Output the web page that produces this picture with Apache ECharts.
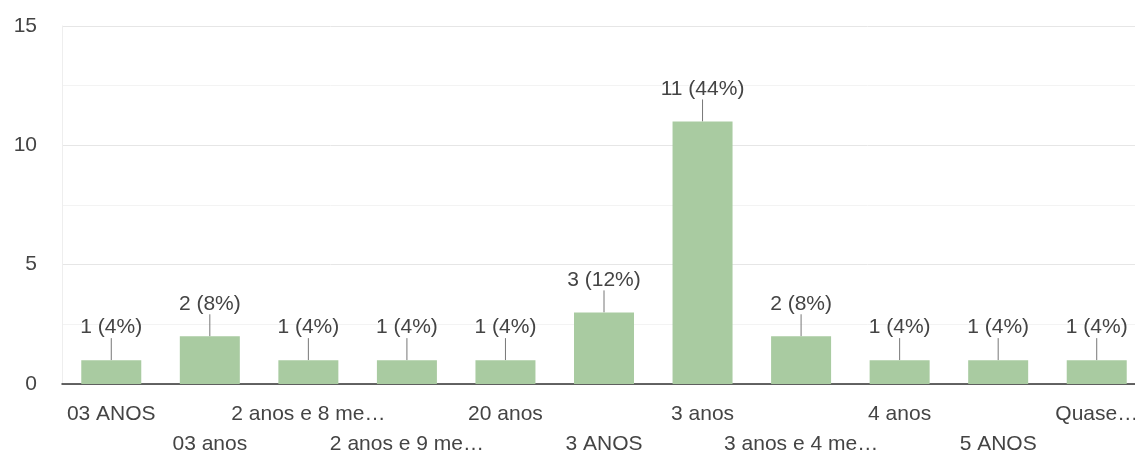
<!DOCTYPE html>
<html>
<head>
<meta charset="utf-8">
<script src="https://cdn.jsdelivr.net/npm/echarts@6/dist/echarts.min.js"></script>
<style>
  html, body { margin: 0; padding: 0; background: #fff; }
  #chart { width: 1135px; height: 454px; }
</style>
</head>
<body>
<div id="chart"></div>
<script>
// categorias e contagens
const categories = ['03 ANOS', '03 anos', '2 anos e 8 me…', '2 anos e 9 me…', '20 anos',
  '3 ANOS', '3 anos', '3 anos e 4 me…', '4 anos', '5 ANOS', 'Quase…'];
const counts = [1, 2, 1, 1, 1, 3, 11, 2, 1, 1, 1];
const total = counts.reduce((a, b) => a + b, 0);

const chart = echarts.init(document.getElementById('chart'));

const option = {
  animation: false,
  textStyle: { fontFamily: 'Liberation Sans, Arial, sans-serif' },
  grid: { left: 62, right: -11, top: 26, bottom: 70, outerBoundsMode: 'none', containLabel: false },
  xAxis: {
    type: 'category',
    data: categories,
    axisTick: { show: false },
    axisLine: { lineStyle: { color: '#333', width: 1.5 } },
    axisLabel: {
      interval: 0,
      color: '#444',
      fontSize: 21,
      margin: 15,
      lineHeight: 30,
      formatter: (v, i) => (i % 2 === 1 ? '\n' + v : v)
    }
  },
  yAxis: {
    type: 'value',
    min: 0,
    max: 15,
    interval: 5,
    axisLine: { show: true, lineStyle: { color: '#eee' } },
    axisTick: { show: false },
    axisLabel: { color: '#444', fontSize: 21, margin: 25 },
    splitLine: { lineStyle: { color: '#e6e6e6' } },
    minorTick: { show: false, splitNumber: 2 },
    minorSplitLine: { show: true, lineStyle: { color: '#f3f3f3' } }
  },
  series: [
    {
      type: 'bar',
      data: counts,
      barWidth: 60,
      itemStyle: { color: '#a9cba1' },
      label: {
        show: true,
        position: 'top',
        distance: 0,
        color: '#444',
        fontSize: 21,
        formatter: p => p.value + ' (' + Math.round(p.value / total * 100) + '%)'
      },
      labelLayout: { dy: -22 },
      labelLine: { show: true, lineStyle: { color: '#777', width: 1 } }
    }
  ]
};

chart.setOption(option);
</script>
</body>
</html>
